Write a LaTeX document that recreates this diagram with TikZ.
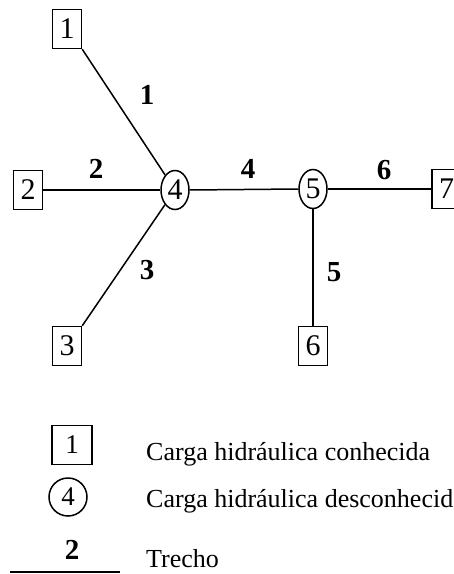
\documentclass[tikz,border=0pt]{standalone}
\usepackage{fontspec}
\setmainfont{Liberation Serif}
\usetikzlibrary{shapes.geometric}
\tikzset{
  known/.style={draw, line width=1.5bp, minimum width=29bp, minimum height=39bp, inner sep=0pt, font=\fontsize{30bp}{32bp}\selectfont},
  unknown/.style={draw, ellipse, line width=1.5bp, minimum width=28bp, minimum height=39bp, inner sep=0pt, font=\fontsize{30bp}{32bp}\selectfont},
  pipe/.style={line width=1.5bp},
  plabel/.style={font=\fontsize{29bp}{30bp}\selectfont\bfseries, inner sep=0pt},
  legtext/.style={font=\fontsize{26bp}{28bp}\selectfont, anchor=base west, inner sep=0pt}
}
\begin{document}
\begin{tikzpicture}[x=1bp, y=-1bp]
\useasboundingbox (0,0) rectangle (454,574);
% nodes
\node[known] (n1) at (67,29) {1};
\node[known] (n2) at (28,190) {2};
\node[known] (n3) at (67,346) {3};
\node[unknown] (n4) at (175,190) {4};
\node[unknown] (n5) at (313,189) {5};
\node[known] (n6) at (313,346) {6};
\node[known] (n7) at (446.5,189) {7};
% pipes
\draw[pipe] (n1.south east) -- (n4);
\draw[pipe] (n2.east) -- (n4.west);
\draw[pipe] (n3.north east) -- (n4);
\draw[pipe] (n4.east) -- (n5.west);
\draw[pipe] (n5.south) -- (n6.north);
\draw[pipe] (n5.east) -- (n7.west);
% pipe labels
\node[plabel] (l1) at (147,95) {1};
\node[plabel] (l2) at (96,169) {2};
\node[plabel] (l3) at (147,270) {3};
\node[plabel] (l4) at (248,169) {4};
\node[plabel] (l5) at (334,272) {5};
\node[plabel] (l6) at (384,170) {6};
% legend
\node[known, minimum width=40bp, minimum height=39bp, font=\fontsize{27bp}{28bp}\selectfont] (k1) at (72,445) {1};
\node[unknown, circle, minimum size=38bp, font=\fontsize{27bp}{28bp}\selectfont] (k2) at (68,497) {4};
\node[plabel] (k3) at (72,550) {2};
\coordinate (ka) at (10,572);
\coordinate (kb) at (120,572);
\draw[pipe] (ka) -- (kb);
\node[legtext] (t1) at (146,460) {Carga hidráulica conhecida};
\node[legtext] (t2) at (146,507) {Carga hidráulica desconhecida};
\node[legtext] (t3) at (146,567) {Trecho};
\end{tikzpicture}
\end{document}
